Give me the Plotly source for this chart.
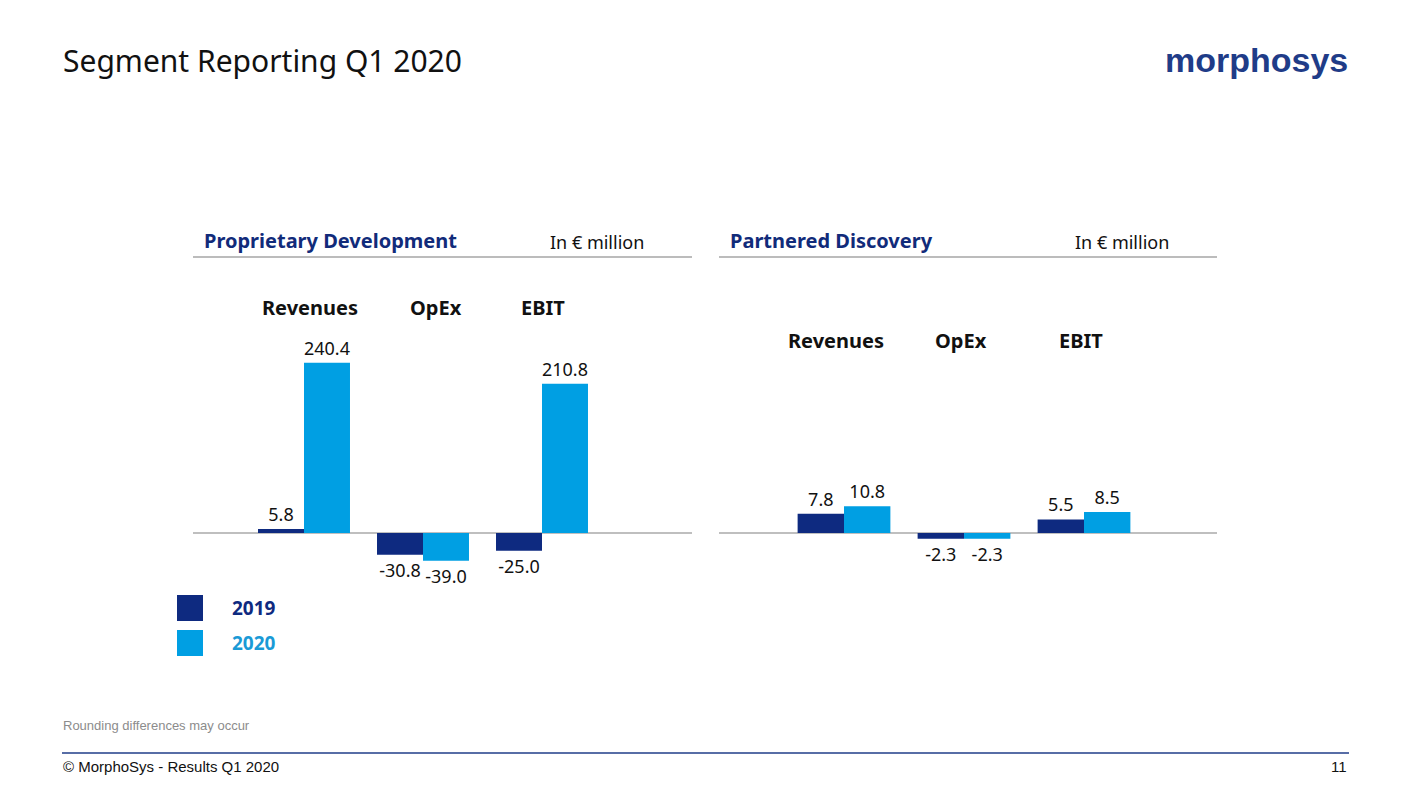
import plotly.graph_objects as go

# ---------------- data ----------------
categories = ["Revenues", "OpEx", "EBIT"]
years = ["2019", "2020"]
prop_2019 = [5.8, -30.8, -25.0]
prop_2020 = [240.4, -39.0, 210.8]
part_2019 = [7.8, -2.3, 5.5]
part_2020 = [10.8, -2.3, 8.5]

NAVY = "#0E2A80"
CYAN = "#009FE3"
W, H = 1411, 794
OFF = 8  # page body margin
FONT = "Noto Sans"


def px(x):
    return (x - OFF) / W


def py(y):
    return 1 - (y - OFF) / H


fig = go.Figure()

panels = [
    dict(xa="x", ya="y", x0=193, x1=692, c0=304, step=119, scale=0.7085,
         s19=prop_2019, s20=prop_2020, labely=307, shifts=[6, 13, 1]),
    dict(xa="x2", ya="y2", x0=719, x1=1217, c0=844, step=120, scale=2.47,
         s19=part_2019, s20=part_2020, labely=340, shifts=[-8, -3, -3]),
]
ZERO_Y = 533
TOP_Y, BOT_Y = 300, 610
idx = list(range(len(categories)))

for i, p in enumerate(panels):
    for name, vals, col in [(years[0], p["s19"], NAVY), (years[1], p["s20"], CYAN)]:
        fig.add_trace(go.Bar(
            x=idx, y=vals, name=name, marker_color=col, marker_line_width=0,
            text=[f"{v:.1f}" for v in vals], textposition="outside",
            textfont=dict(family=FONT, size=18, color="#111111"),
            cliponaxis=False, showlegend=False,
            xaxis=p["xa"], yaxis=p["ya"],
        ))
    xr = [(p["x0"] - p["c0"]) / p["step"], (p["x1"] - p["c0"]) / p["step"]]
    yr = [-(BOT_Y - ZERO_Y) / p["scale"], (ZERO_Y - TOP_Y) / p["scale"]]
    suffix = "" if i == 0 else "2"
    fig.update_layout(**{
        f"xaxis{suffix}": dict(domain=[px(p["x0"]), px(p["x1"])], range=xr,
                               visible=False, anchor=p["ya"]),
        f"yaxis{suffix}": dict(domain=[py(BOT_Y), py(TOP_Y)], range=yr,
                               showgrid=False, showticklabels=False,
                               zeroline=True, zerolinecolor="#BFBFBF", zerolinewidth=2,
                               anchor=p["xa"]),
    })
    for j, c in enumerate(categories):
        fig.add_annotation(x=j, y=py(p["labely"]), xref=p["xa"], yref="paper",
                           text=f"<b>{c}</b>", showarrow=False, xshift=p["shifts"][j],
                           font=dict(family=FONT, size=20, color="#111111"))

fig.update_layout(barmode="group", bargap=0.227, bargroupgap=0,
                  width=W, height=H, margin=dict(l=0, r=0, t=0, b=0),
                  plot_bgcolor="white", paper_bgcolor="white")

shapes = []
ann = []

ann.append(dict(x=px(61), y=py(60), text="Segment Reporting Q1 2020",
                font=dict(family=FONT, size=30, color="#111111"),
                xanchor="left", yanchor="middle"))
ann.append(dict(x=px(1350), y=py(60), text="<b>morphosys</b>",
                font=dict(family="Liberation Sans", size=34, color="#1F3C88"),
                xanchor="right", yanchor="middle"))

for x0, x1, title in [(193, 692, "Proprietary Development"), (719, 1217, "Partnered Discovery")]:
    ann.append(dict(x=px(x0 + 9), y=py(240), text=f"<b>{title}</b>",
                    font=dict(family=FONT, size=20, color="#112B7A"),
                    xanchor="left", yanchor="middle"))
    ann.append(dict(x=px(x1 - 46), y=py(242), text="In € million",
                    font=dict(family=FONT, size=18, color="#111111"),
                    xanchor="right", yanchor="middle"))
    shapes.append(dict(type="line", xref="paper", yref="paper",
                       x0=px(x0), x1=px(x1), y0=py(257), y1=py(257),
                       line=dict(color="#A6A6A6", width=1.5)))

for yy, col, tcol, lab in [(608, NAVY, NAVY, years[0]), (643, CYAN, "#1A9AD6", years[1])]:
    shapes.append(dict(type="rect", xref="paper", yref="paper",
                       x0=px(177), x1=px(203), y0=py(yy - 13), y1=py(yy + 13),
                       fillcolor=col, line=dict(width=0)))
    ann.append(dict(x=px(230), y=py(yy), text=f"<b>{lab}</b>",
                    font=dict(family=FONT, size=19, color=tcol),
                    xanchor="left", yanchor="middle"))

ann.append(dict(x=px(61), y=py(725), text="Rounding differences may occur",
                font=dict(family="Liberation Sans", size=13, color="#8C8C8C"),
                xanchor="left", yanchor="middle"))
shapes.append(dict(type="line", xref="paper", yref="paper",
                   x0=px(62), x1=px(1349), y0=py(753), y1=py(753),
                   line=dict(color="#1F3C88", width=1.5)))
ann.append(dict(x=px(61), y=py(766), text="© MorphoSys - Results Q1 2020",
                font=dict(family="Liberation Sans", size=15, color="#111111"),
                xanchor="left", yanchor="middle"))
ann.append(dict(x=px(1349), y=py(766), text="11",
                font=dict(family="Liberation Sans", size=15, color="#111111"),
                xanchor="right", yanchor="middle"))

for a in ann:
    fig.add_annotation(xref="paper", yref="paper", showarrow=False, **a)
fig.update_layout(shapes=shapes)

fig.write_html("out.html")
